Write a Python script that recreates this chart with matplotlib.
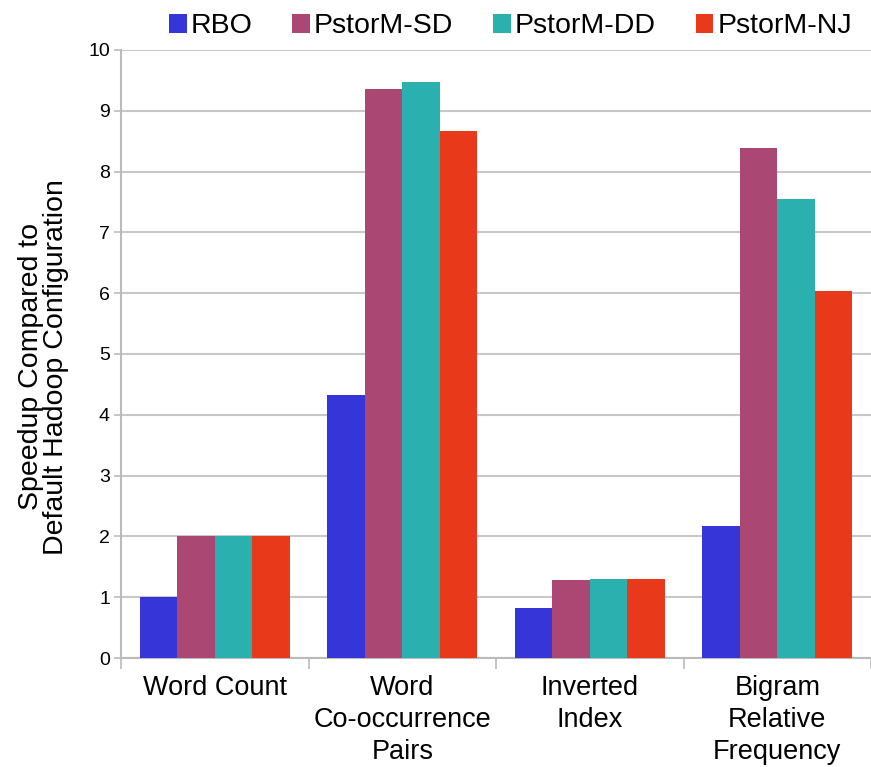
import matplotlib
matplotlib.use("Agg")
import matplotlib.pyplot as plt
import numpy as np

categories = ["Word Count", "Word\nCo-occurrence\nPairs", "Inverted\nIndex", "Bigram\nRelative\nFrequency"]
series_names = ["RBO", "PstorM-SD", "PstorM-DD", "PstorM-NJ"]
rbo = [1.0, 4.33, 0.82, 2.17]
pstorm_sd = [2.0, 9.36, 1.28, 8.39]
pstorm_dd = [2.0, 9.47, 1.30, 7.55]
pstorm_nj = [2.0, 8.67, 1.30, 6.04]
y_ticks = [0, 1, 2, 3, 4, 5, 6, 7, 8, 9, 10]
colors = ["#3535D8", "#AA4873", "#2BB0B0", "#E8391A"]

plt.rcParams['font.family'] = ['Liberation Sans', 'DejaVu Sans']

fig = plt.figure(figsize=(8.71, 7.67), dpi=100)
ax = fig.add_axes([0.139, 0.142, 0.861, 0.793])

x = np.arange(len(categories))
width = 0.2
data = [rbo, pstorm_sd, pstorm_dd, pstorm_nj]
for i, (vals, name, c) in enumerate(zip(data, series_names, colors)):
    ax.bar(x + (i - 1.5) * width, vals, width, color=c, label=name, zorder=3)

ax.set_xlim(-0.5, len(categories) - 0.5)
ax.set_ylim(0, 10)
ax.set_yticks(y_ticks)
ax.tick_params(axis='y', labelsize=14, length=5, color='#bbbbbb', width=1.2, pad=3)
ax.grid(axis='y', color='#c8c8c8', linewidth=1.5, zorder=0)

ax.set_xticks(x)
ax.set_xticklabels(categories, fontsize=19.5, linespacing=1.3, va='top')
ax.tick_params(axis='x', length=0, pad=12)
ax.set_xticks(np.arange(-0.5, len(categories), 1.0), minor=True)
ax.tick_params(axis='x', which='minor', length=8, color='#bbbbbb', width=1.2)

for s in ['top', 'right']:
    ax.spines[s].set_visible(False)
for s in ['left', 'bottom']:
    ax.spines[s].set_color('#bbbbbb')
    ax.spines[s].set_linewidth(1.5)

ax.set_ylabel("Speedup Compared to\nDefault Hadoop Configuration", fontsize=20.5, linespacing=0.95)
ax.yaxis.set_label_coords(-0.069, 0.479)

ax.legend(loc='lower center', bbox_to_anchor=(0.519, 1.008), ncol=4, frameon=False,
          fontsize=20.5, handlelength=0.63, handleheight=0.67, handletextpad=0.13,
          columnspacing=1.4, borderaxespad=0.0, borderpad=0.2)

fig.savefig("out.png", dpi=100)
